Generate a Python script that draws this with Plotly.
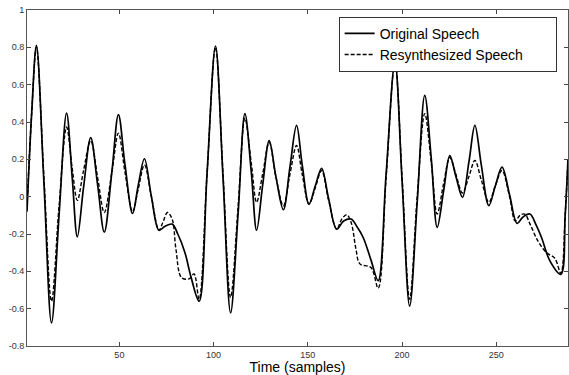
import plotly.graph_objects as go

# Original speech (solid) — key samples
orig_t = [1, 3.5, 6, 10, 14, 18, 22, 25, 27.7, 31, 34.8, 38.5, 42, 46, 49.5, 53, 57, 60, 63.3, 67,
          71, 74, 78, 81, 84.8, 88, 92.3, 96.5, 101, 105, 109, 113, 116.6, 120, 122.8, 126, 129.5,
          133, 137, 140.5, 144, 147, 150.6, 154, 157.3, 161, 165.3, 169, 172.9, 176, 179.4, 183.5,
          187.3, 191.5, 196.2, 200, 204, 208, 212, 215.5, 218.6, 222, 225.3, 228.5, 232, 235.5,
          238.6, 242, 246, 249.5, 253, 257, 261, 264, 267.8, 271, 274, 278.4, 284.2, 286.5, 288]
orig_v = [-0.08, 0.45, 0.81, 0.07, -0.676, -0.1, 0.448, 0.1, -0.215, 0.05, 0.316, 0.06, -0.19, 0.13,
          0.44, 0.17, -0.09, 0.06, 0.203, 0.0, -0.18, -0.16, -0.147, -0.2, -0.30, -0.43, -0.56, 0.12,
          0.807, 0.1, -0.622, -0.09, 0.445, 0.13, -0.18, 0.06, 0.30, 0.11, -0.07, 0.16, 0.382, 0.17,
          -0.04, 0.06, 0.152, -0.01, -0.174, -0.13, -0.12, -0.16, -0.22, -0.34, -0.45, 0.12, 0.72,
          0.08, -0.586, -0.03, 0.543, 0.2, -0.165, 0.03, 0.22, 0.11, -0.003, 0.19, 0.382, 0.17,
          -0.048, 0.06, 0.158, 0.01, -0.143, -0.11, -0.093, -0.15, -0.22, -0.344, -0.416, -0.1, 0.2]

# Resynthesized speech (dashed)
res_t = [1, 3.5, 6, 10, 14, 18, 22, 25, 27.7, 31, 34.8, 38.5, 42, 46, 49.5, 53, 57, 60, 63.3, 67,
         71, 73, 75.5, 78, 80, 83, 87, 89.6, 92.3, 96.5, 101, 105, 109, 113, 116.6, 120, 122.8, 126,
         129.5, 133, 137, 140.5, 144, 147, 150.6, 154, 157.3, 161, 165.3, 168, 170.6, 173, 175.5,
         177.6, 183.5, 187.3, 191.5, 196.2, 200, 204, 208, 212, 215.5, 218.6, 222, 225.3, 228.5,
         232, 235.5, 238.6, 242, 246, 249.5, 253, 257, 260, 262.5, 265, 268, 272, 276.6, 281,
         284.2, 286.5, 288]
res_v = [-0.05, 0.45, 0.80, 0.1, -0.56, -0.05, 0.373, 0.15, -0.02, 0.14, 0.30, 0.1, -0.085, 0.13,
         0.34, 0.13, -0.08, 0.04, 0.17, 0.0, -0.18, -0.14, -0.085, -0.12, -0.28, -0.434, -0.44,
         -0.414, -0.55, 0.12, 0.80, 0.12, -0.54, -0.05, 0.42, 0.18, -0.03, 0.12, 0.29, 0.11, -0.05,
         0.12, 0.274, 0.12, -0.04, 0.05, 0.14, -0.02, -0.174, -0.12, -0.097, -0.14, -0.28, -0.36,
         -0.38, -0.49, 0.1, 0.72, 0.1, -0.55, 0.0, 0.445, 0.18, -0.093, 0.07, 0.21, 0.12, 0.02,
         0.11, 0.194, 0.09, -0.03, 0.06, 0.14, 0.0, -0.13, -0.1, -0.093, -0.15, -0.237, -0.30,
         -0.33, -0.41, -0.1, 0.2]

series_names = ["Original Speech", "Resynthesized Speech"]
x_ticks = [50, 100, 150, 200, 250]
y_ticks = [-0.8, -0.6, -0.4, -0.2, 0, 0.2, 0.4, 0.6, 0.8, 1]
y_labels = ["-0.8", "-0.6", "-0.4", "-0.2", "0", "0.2", "0.4", "0.6", "0.8", "1"]

pad = "\u00a0" * 7  # MATLAB-style right padding inside the legend box

fig = go.Figure()
fig.add_trace(go.Scatter(x=orig_t, y=orig_v, mode="lines", name=series_names[0] + pad,
                         line=dict(color="black", width=1.7, shape="spline", smoothing=1.0)))
fig.add_trace(go.Scatter(x=res_t, y=res_v, mode="lines", name=series_names[1] + pad,
                         line=dict(color="black", width=1.4, dash="4px,2px", shape="spline", smoothing=1.0)))

axis_common = dict(showgrid=False, zeroline=False, showline=True, linecolor="#555", linewidth=1,
                   mirror="ticks", ticks="inside", ticklen=4, tickcolor="#444",
                   tickfont=dict(family="Liberation Sans, Arial", size=9, color="#333"))

fig.update_layout(
    width=569, height=375,
    margin=dict(l=27, r=1, t=10, b=29),
    paper_bgcolor="white", plot_bgcolor="white",
    showlegend=True,
    legend=dict(x=0.979, y=0.98, xanchor="right", yanchor="top",
                bgcolor="white", bordercolor="#333", borderwidth=1,
                font=dict(family="Liberation Sans, Arial", size=14, color="black"),
                tracegroupgap=0, itemwidth=30),
    xaxis=dict(range=[1, 288], tickvals=x_ticks, ticktext=[str(v) for v in x_ticks],
               title=dict(text="Time (samples)", standoff=2,
                          font=dict(family="Liberation Sans, Arial", size=14, color="black")),
               **axis_common),
    yaxis=dict(range=[-0.8, 1], tickvals=y_ticks, ticktext=y_labels, **axis_common),
)

fig.write_html("out.html", config={"displayModeBar": False},
               post_script="document.body.style.margin='0';")
